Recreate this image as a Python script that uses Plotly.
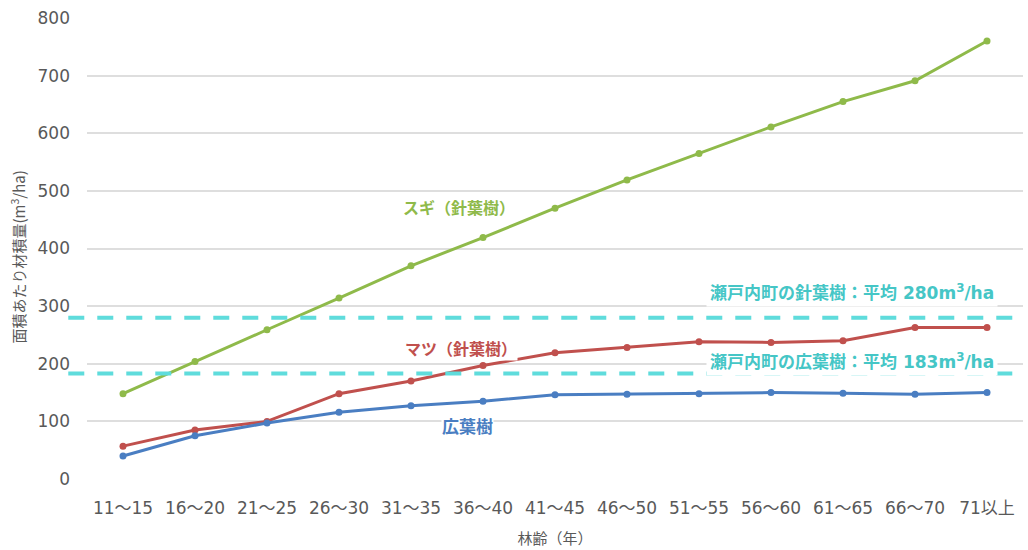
import plotly.graph_objects as go

# 林齢区分
age_classes = ["11～15", "16～20", "21～25", "26～30", "31～35", "36～40", "41～45",
               "46～50", "51～55", "56～60", "61～65", "66～70", "71以上"]

# 面積あたり材積量 (m3/ha)
sugi = [148, 204, 259, 314, 370, 419, 470, 519, 565, 611, 655, 691, 760]
matsu = [57, 85, 100, 148, 170, 197, 219, 228, 238, 237, 240, 263, 263]
broadleaf = [40, 75, 97, 116, 127, 135, 146, 147, 148, 150, 149, 147, 150]

# 瀬戸内町の平均値
avg_conifer = 280
avg_broadleaf = 183

CJK = "Noto Sans CJK JP, Noto Sans, sans-serif"
MIXED = "DejaVu Sans, Noto Sans CJK JP, sans-serif"
GREEN = "#8fba4a"
RED = "#c0504d"
BLUE = "#4a7ec2"
CYAN = "#5fdcdc"
CYAN_TEXT = "#45c6c6"
GRAY = "#595959"

fig = go.Figure()

for vals, color in [(sugi, GREEN), (matsu, RED), (broadleaf, BLUE)]:
    fig.add_trace(go.Scatter(
        x=age_classes, y=vals, mode="lines+markers",
        line=dict(color=color, width=3),
        marker=dict(color=color, size=7),
        showlegend=False, hoverinfo="y",
    ))

# 平均値の破線
for v in (avg_conifer, avg_broadleaf):
    fig.add_shape(type="line", xref="paper", yref="y",
                  x0=-0.02, x1=0.998, y0=v, y1=v,
                  line=dict(color=CYAN, width=4, dash="16px,13px"))

def label(text, x, y, color, size, family=CJK, xanchor="center", pad=0):
    fig.add_annotation(text=text, x=x, y=y, xref="x", yref="y",
                       showarrow=False, xanchor=xanchor, yanchor="middle",
                       font=dict(family=family, size=size, color=color),
                       bgcolor="white", borderpad=pad)

label("<b>スギ（針葉樹）</b>", 4.67, 472, GREEN, 16)
label("<b>マツ（針葉樹）</b>", 4.69, 228, RED, 16)
label("<b>広葉樹</b>", 4.78, 92, BLUE, 17)
label("<b>瀬戸内町の針葉樹：平均 280m<sup>3</sup>/ha</b>", 8.1, 325, CYAN_TEXT, 17,
      family=MIXED, xanchor="left", pad=3)
label("<b>瀬戸内町の広葉樹：平均 183m<sup>3</sup>/ha</b>", 8.1, 204, CYAN_TEXT, 17,
      family=MIXED, xanchor="left", pad=3)

# 縦軸タイトル
fig.add_annotation(text="面積あたり材積量(m<sup>3</sup>/ha)", xref="paper", yref="paper",
                   x=-0.074, y=0.482, textangle=-90, showarrow=False,
                   xanchor="center", yanchor="middle",
                   font=dict(family=CJK, size=15, color=GRAY))

fig.update_layout(
    width=1028, height=550,
    margin=dict(l=87, r=5, t=18, b=71),
    paper_bgcolor="white", plot_bgcolor="white",
    font=dict(family=CJK, color=GRAY),
    xaxis=dict(
        type="category", range=[-0.5, len(age_classes) - 0.5],
        showgrid=False, showline=False, zeroline=False, ticks="",
        tickfont=dict(family=MIXED, size=17, color=GRAY), ticklabelstandoff=17,
        title=dict(text="林齢（年）", font=dict(family=CJK, size=15, color=GRAY), standoff=16),
    ),
    yaxis=dict(
        range=[0, 800], dtick=100, showgrid=True, gridcolor="#dedede", gridwidth=1.5,
        zeroline=False, showline=False, ticks="",
        tickfont=dict(family=MIXED, size=17, color=GRAY), ticklabelstandoff=16,
    ),
)

fig.write_html("out.html")
